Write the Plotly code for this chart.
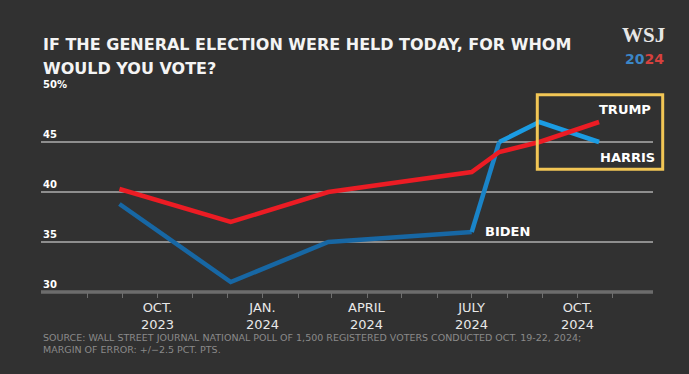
import plotly.graph_objects as go

# ---- data ----
trump_dates = ["2023-08-29", "2023-12-04", "2024-02-27", "2024-07-01", "2024-07-25", "2024-08-29", "2024-10-20"]
trump_vals = [40.3, 37, 40, 42, 44, 45, 47]
biden_dates = ["2023-08-29", "2023-12-04", "2024-02-27", "2024-07-01"]
biden_vals = [38.8, 31, 35, 36]
harris_dates = ["2024-07-25", "2024-08-29", "2024-10-20"]
harris_vals = [45, 47, 45]

tick_months = ["2023-08-01", "2023-09-01", "2023-10-01", "2023-11-01", "2023-12-01",
               "2024-01-01", "2024-02-01", "2024-03-01", "2024-04-01", "2024-05-01",
               "2024-06-01", "2024-07-01", "2024-08-01", "2024-09-01", "2024-10-01",
               "2024-11-01"]
label_months = ["2023-10-01", "2024-01-01", "2024-04-01", "2024-07-01", "2024-10-01"]
label_text = ["OCT.<br>2023", "JAN.<br>2024", "APRIL<br>2024", "JULY<br>2024", "OCT.<br>2024"]
y_ticks = [30, 35, 40, 45, 50]
y_tick_text = ["30", "35", "40", "45", "50%"]

title_lines = ["IF THE GENERAL ELECTION WERE HELD TODAY, FOR WHOM", "WOULD YOU VOTE?"]
source_text = ("SOURCE: WALL STREET JOURNAL NATIONAL POLL OF 1,500 REGISTERED VOTERS CONDUCTED OCT. 19-22, 2024;"
               "<br>MARGIN OF ERROR: +/\u22122.5 PCT. PTS.")

BG = "#313131"
RED = "#ec1c24"
DARK_BLUE = "#1767a4"
LIGHT_BLUE = "#1b9ce3"
MID_BLUE = "#1a84c8"
W, H = 689, 374
L, R, T, B = 41, 36, 92, 82

fig = go.Figure()
fig.add_trace(go.Scatter(x=biden_dates, y=biden_vals, mode="lines",
                         line=dict(color=DARK_BLUE, width=4.5), hoverinfo="skip"))
fig.add_trace(go.Scatter(x=[biden_dates[-1], harris_dates[0]], y=[biden_vals[-1], harris_vals[0]],
                         mode="lines", line=dict(color=MID_BLUE, width=4.5), hoverinfo="skip"))
fig.add_trace(go.Scatter(x=harris_dates, y=harris_vals, mode="lines",
                         line=dict(color=LIGHT_BLUE, width=4.5), hoverinfo="skip"))
fig.add_trace(go.Scatter(x=trump_dates, y=trump_vals, mode="lines",
                         line=dict(color=RED, width=4.5), hoverinfo="skip"))

fig.update_layout(
    width=W, height=H, margin=dict(l=L, r=R, t=T, b=B),
    paper_bgcolor=BG, plot_bgcolor=BG, showlegend=False,
    font=dict(family="DejaVu Sans", color="#ffffff"),
    xaxis=dict(type="date", range=["2023-06-21 15:30", "2024-12-06"],
               showgrid=False, zeroline=False, showline=False,
               tickmode="array", tickvals=tick_months, showticklabels=False,
               ticks="outside", ticklen=5, tickwidth=1, tickcolor="#6f6f6f",
               fixedrange=True),
    yaxis=dict(range=[30, 50], tickmode="array", tickvals=y_ticks, showticklabels=False,
               showgrid=True, gridcolor="#8e8e8e", gridwidth=1.5, zeroline=False,
               showline=False, fixedrange=True),
)

# baseline
fig.add_shape(type="line", xref="paper", yref="paper", x0=0, x1=1, y0=0, y1=0,
              line=dict(color="#6c6c6c", width=3.5))


def py(px):
    return (H - B - px) / (H - T - B)


def pxx(px):
    return (px - L) / (W - L - R)


# y labels above gridlines
for v, t in zip(y_ticks, y_tick_text):
    fig.add_annotation(x=0, xref="paper", y=v, yref="y", text="<b>%s</b>" % t,
                       showarrow=False, xanchor="left", yanchor="middle", yshift=8,
                       font=dict(size=10, color="#ffffff", family="DejaVu Sans"))

# x labels (two lines each)
for m, t in zip(label_months, label_text):
    fig.add_annotation(x=m, xref="x", y=py(316.3), yref="paper", text=t,
                       showarrow=False, xanchor="center", yanchor="middle", borderpad=0,
                       font=dict(size=13, color="#e8e8e8", family="DejaVu Sans"))

# title
for i, line in enumerate(title_lines):
    fig.add_annotation(x=0, xref="paper", y=py(44.5 + 23.7 * i), yref="paper", text="<b>%s</b>" % line,
                       showarrow=False, xanchor="left", yanchor="middle", align="left",
                       font=dict(size=16, color="#f4f4f4", family="DejaVu Sans"))
# source
fig.add_annotation(x=pxx(42), xref="paper", y=py(343.5), yref="paper", text=source_text,
                   showarrow=False, xanchor="left", yanchor="middle", align="left", borderpad=0,
                   font=dict(size=9.5, color="#8a8a8a", family="DejaVu Sans"))

# logo
fig.add_annotation(x=pxx(643.5), xref="paper", y=py(35), yref="paper", text="<b>WSJ</b>",
                   showarrow=False, xanchor="center", yanchor="middle",
                   font=dict(size=21, color="#e6e6e6", family="Liberation Serif"))
fig.add_annotation(x=pxx(644), xref="paper", y=py(59), yref="paper",
                   text="<b><span style='color:#3b86c6'>20</span><span style='color:#d6413e'>24</span></b>",
                   showarrow=False, xanchor="center", yanchor="middle",
                   font=dict(size=14, family="DejaVu Sans"))

# highlight box
fig.add_shape(type="rect", xref="paper", yref="paper",
              x0=pxx(537.3), x1=pxx(662.7), y0=py(169.3), y1=py(94.7),
              line=dict(color="#f2c655", width=3), fillcolor="rgba(0,0,0,0)")

# direct labels
for txt, cx, cy in [("TRUMP", 625, 109), ("HARRIS", 627, 157.7), ("BIDEN", 507.5, 231.7)]:
    fig.add_annotation(x=pxx(cx), xref="paper", y=py(cy), yref="paper", text="<b>%s</b>" % txt,
                       showarrow=False, xanchor="center", yanchor="middle",
                       font=dict(size=13, color="#ffffff", family="DejaVu Sans"))

fig.write_html("out.html", config={"displayModeBar": False},
               post_script="document.body.style.margin='0';document.body.style.background='%s';" % BG)
